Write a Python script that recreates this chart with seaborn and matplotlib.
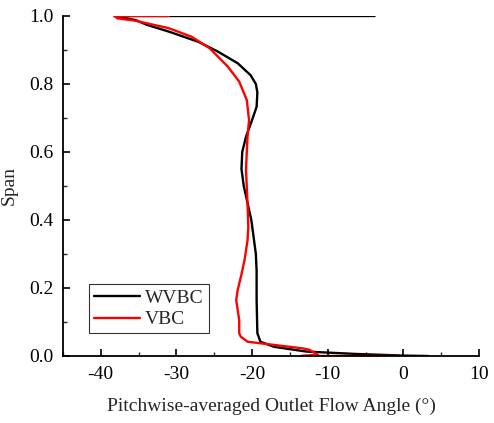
import numpy as np
import pandas as pd
import matplotlib
matplotlib.use("Agg")
import matplotlib.pyplot as plt
import seaborn as sns
from matplotlib.ticker import MultipleLocator

# WVBC (black)
wvbc_angle = [3.3, 0.3, -6.3, -12.8, -17.1, -18.9, -19.3, -19.4, -19.4, -19.5, -19.8, -20.1,
              -20.6, -21.1, -21.4, -21.3, -20.8, -20.0, -19.4, -19.3, -19.5, -20.2, -21.9,
              -24.5, -27.1, -31.0, -33.9, -35.4, -38.2, -3.8]
wvbc_span = [0.0, 0.001, 0.006, 0.013, 0.027, 0.042, 0.067, 0.165, 0.25, 0.30, 0.35, 0.40,
             0.45, 0.50, 0.55, 0.60, 0.645, 0.694, 0.733, 0.775, 0.80, 0.826, 0.861,
             0.895, 0.924, 0.954, 0.974, 0.988, 1.0, 1.0]

# VBC (red)
vbc_angle = [-1.0, -13.5, -11.3, -12.4, -13.2, -15.0, -20.6, -21.5, -21.7, -21.7, -22.1, -21.9,
             -21.4, -21.0, -20.6, -20.5, -20.6, -20.8, -20.7, -20.6, -20.4, -20.7, -21.7,
             -23.2, -25.6, -28.0, -31.0, -35.4, -37.8, -38.2, -31.0]
vbc_span = [0.0, 0.0, 0.003, 0.018, 0.022, 0.027, 0.042, 0.057, 0.067, 0.106, 0.165, 0.194,
            0.24, 0.282, 0.34, 0.380, 0.449, 0.547, 0.60, 0.645, 0.694, 0.753, 0.807,
            0.851, 0.905, 0.939, 0.964, 0.986, 0.993, 1.0, 1.0]

series_names = ["WVBC", "VBC"]
series_colors = ["black", "red"]

xticks = [-40, -30, -20, -10, 0, 10]
yticks = [0.0, 0.2, 0.4, 0.6, 0.8, 1.0]

df = pd.concat([
    pd.DataFrame({"angle": wvbc_angle, "span": wvbc_span, "case": "WVBC"}),
    pd.DataFrame({"angle": vbc_angle, "span": vbc_span, "case": "VBC"}),
], ignore_index=True)

sns.set_theme(style="ticks")
plt.rcParams['font.family'] = ['Liberation Serif', 'DejaVu Serif']
plt.rcParams['xtick.direction'] = 'in'
plt.rcParams['ytick.direction'] = 'in'

FS = 14

fig = plt.figure(figsize=(4.94, 4.23), dpi=100)
ax = fig.add_axes([0.1275, 0.1584, 0.8421, 0.8038])

for name, color in zip(series_names, series_colors):
    sub = df[df["case"] == name]
    sns.lineplot(data=sub, x="angle", y="span", sort=False, estimator=None,
                 color=color, linewidth=1.7, label=name, ax=ax)

ax.set_xlim(-45, 10)
ax.set_ylim(0, 1.0)
ax.set_xticks(xticks)
ax.set_xticklabels([f"{t:d}" for t in xticks])
ax.set_yticks(yticks)
ax.set_yticklabels([f"{t:.1f}" for t in yticks])
ax.xaxis.set_minor_locator(MultipleLocator(5))
ax.yaxis.set_minor_locator(MultipleLocator(0.1))
ax.tick_params(which="major", direction="in", length=5, width=1.2, labelsize=FS, colors="black")
ax.tick_params(which="minor", direction="in", length=3, width=1.0)
ax.tick_params(axis="x", pad=7)
ax.tick_params(axis="y", pad=7)

for side in ["top", "right"]:
    ax.spines[side].set_visible(False)
for side in ["left", "bottom"]:
    ax.spines[side].set_linewidth(1.3)
    ax.spines[side].set_color("black")

ax.set_xlabel("Pitchwise-averaged Outlet Flow Angle (°)", fontsize=FS, labelpad=11)
ax.set_ylabel("Span", fontsize=FS, labelpad=8)

leg = ax.legend(loc="lower left", bbox_to_anchor=(0.063, 0.067), fontsize=FS,
                frameon=True, fancybox=False, edgecolor="black", handlelength=2.37,
                borderpad=0.25, labelspacing=0.2, handletextpad=0.26, borderaxespad=0)
leg.get_frame().set_linewidth(0.8)

fig.savefig("out.png", dpi=100)
